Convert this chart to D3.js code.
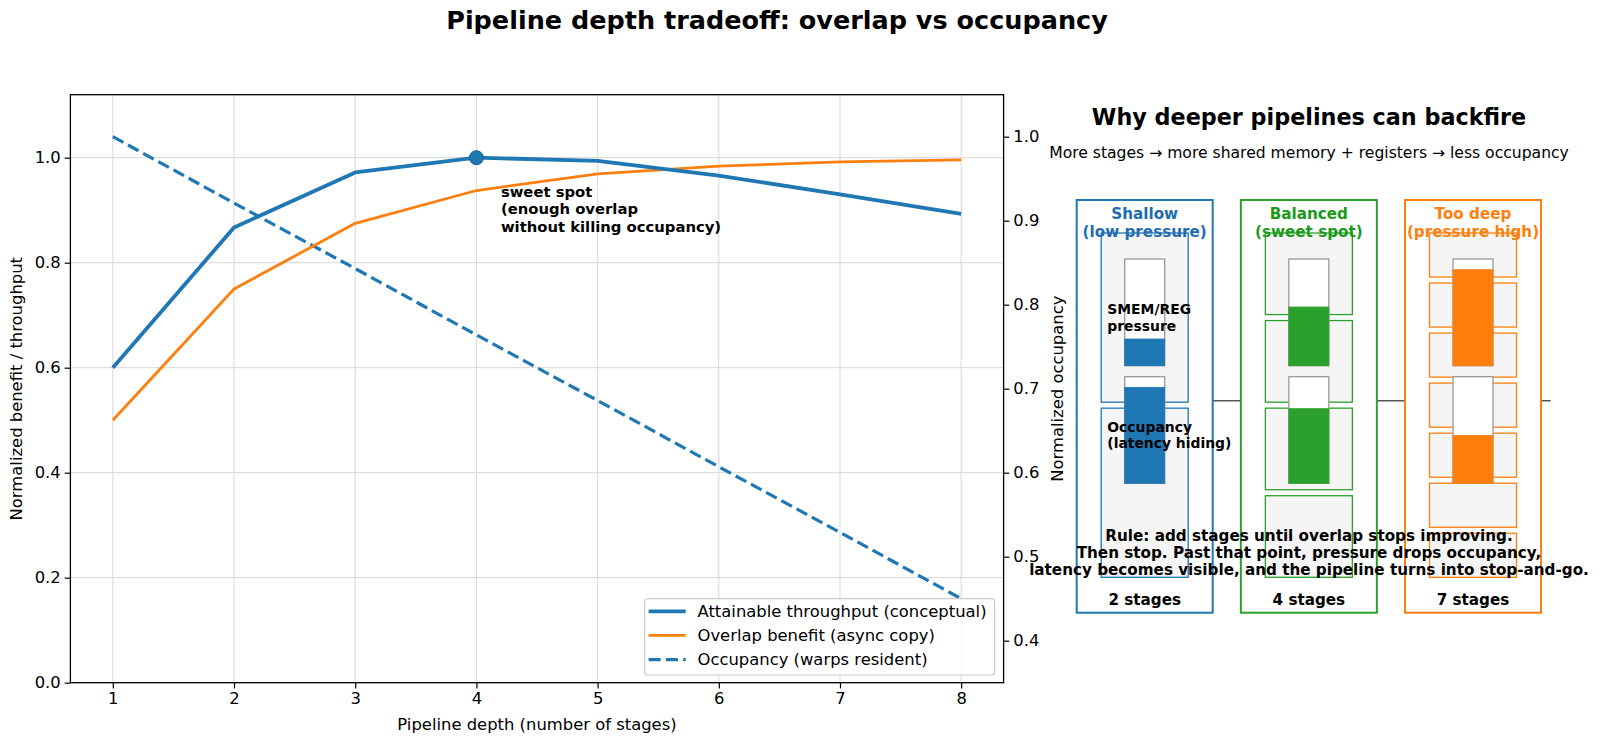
<!DOCTYPE html>
<html><head><meta charset="utf-8">
<script src="https://cdn.jsdelivr.net/npm/d3@7"></script>
<style>
html,body{margin:0;padding:0;background:#fff;}
svg{display:block;font-family:"DejaVu Sans",sans-serif;}
</style></head>
<body><svg id="c" width="1600" height="742"></svg>
<script>
// ---------- data ----------
const stages = [1, 2, 3, 4, 5, 6, 7, 8];
const throughput = [0.60, 0.867, 0.972, 1.0, 0.994, 0.966, 0.930, 0.893];
const overlap = [0.50, 0.75, 0.875, 0.9375, 0.969, 0.984, 0.992, 0.996];
const occupancy = [1.0, 0.921, 0.843, 0.764, 0.686, 0.607, 0.529, 0.45];
const leftTicks = [0.0, 0.2, 0.4, 0.6, 0.8, 1.0];
const rightTicks = [0.4, 0.5, 0.6, 0.7, 0.8, 0.9, 1.0];
const sweetSpot = {x: 4, y: 1.0};
const seriesNames = ["Attainable throughput (conceptual)", "Overlap benefit (async copy)", "Occupancy (warps resident)"];

const panelNames = ["Shallow", "Balanced", "Too deep"];
const panelSub = ["(low pressure)", "(sweet spot)", "(pressure high)"];
const panelStages = [2, 4, 7];
const panelPressure = [0.25, 0.55, 0.90];
const panelOccupancy = [0.90, 0.70, 0.45];
const panelColors = ["#1f77b4", "#2ca02c", "#ff7f0e"];
const panelTextColors = ["#1f6db0", "#1a9a1a", "#ff7f0e"];
const ruleLines = ["Rule: add stages until overlap stops improving.",
  "Then stop. Past that point, pressure drops occupancy,",
  "latency becomes visible, and the pipeline turns into stop-and-go."];

// ---------- setup ----------
const svg = d3.select("#c");
const FONT = 16.4;
const blue = "#1f77b4", orange = "#ff7f0e";
const L = 70.4, R = 1003.6, T = 94.7, B = 682.7;

const x = d3.scaleLinear().domain([0.65, 8.35]).range([L, R]);
const yL = d3.scaleLinear().domain([0, 1.12]).range([B, T]);
const yR = d3.scaleLinear().domain([0.35, 1.05]).range([B, T]);

// title
svg.append("text").attr("x", 777).attr("y", 20).attr("text-anchor", "middle")
  .attr("dominant-baseline", "central").attr("font-size", 25.5).attr("font-weight", "bold")
  .text("Pipeline depth tradeoff: overlap vs occupancy");

// grid
const g = svg.append("g");
g.selectAll(".gx").data(stages).join("line")
  .attr("x1", d => x(d)).attr("x2", d => x(d)).attr("y1", T).attr("y2", B)
  .attr("stroke", "#dedede").attr("stroke-width", 1.2);
g.selectAll(".gy").data(leftTicks).join("line")
  .attr("x1", L).attr("x2", R).attr("y1", d => yL(d)).attr("y2", d => yL(d))
  .attr("stroke", "#dedede").attr("stroke-width", 1.2);

// axes
const axB = d3.axisBottom(x).tickValues(stages).tickFormat(d3.format("d")).tickSizeOuter(0).tickSize(5.7).tickPadding(4);
const axL = d3.axisLeft(yL).tickValues(leftTicks).tickFormat(d3.format(".1f")).tickSizeOuter(0).tickSize(5.7).tickPadding(4);
const axR = d3.axisRight(yR).tickValues(rightTicks).tickFormat(d3.format(".1f")).tickSizeOuter(0).tickSize(5.7).tickPadding(4);
function styleAxis(sel) {
  sel.selectAll("text").attr("font-size", FONT).attr("font-family", "DejaVu Sans").attr("fill", "#000");
  sel.selectAll("line").attr("stroke", "#000").attr("stroke-width", 1.2);
  sel.select(".domain").remove();
}
svg.append("g").attr("transform", `translate(0,${B})`).call(axB).call(styleAxis);
svg.append("g").attr("transform", `translate(${L},0)`).call(axL).call(styleAxis);
svg.append("g").attr("transform", `translate(${R},0)`).call(axR).call(styleAxis);

// lines
const lineL = d3.line().x((d, i) => x(stages[i])).y(d => yL(d));
const lineR = d3.line().x((d, i) => x(stages[i])).y(d => yR(d));
svg.append("path").attr("d", lineR(occupancy)).attr("fill", "none").attr("stroke", blue)
  .attr("stroke-width", 3.2).attr("stroke-dasharray", "12,5.3");
svg.append("path").attr("d", lineL(overlap)).attr("fill", "none").attr("stroke", orange)
  .attr("stroke-width", 2.8).attr("stroke-linejoin", "round");
svg.append("path").attr("d", lineL(throughput)).attr("fill", "none").attr("stroke", blue)
  .attr("stroke-width", 3.8).attr("stroke-linejoin", "round");
svg.append("circle").attr("cx", x(sweetSpot.x)).attr("cy", yL(sweetSpot.y)).attr("r", 7)
  .attr("fill", blue).attr("stroke", "#1a5f94").attr("stroke-width", 1);

// annotation
const ann = svg.append("text").attr("font-size", 14.8).attr("font-weight", "bold");
["sweet spot", "(enough overlap", "without killing occupancy)"].forEach((t, i) => {
  ann.append("tspan").attr("x", x(sweetSpot.x) + 24.5).attr("y", 191 + i * 17.5)
    .attr("dominant-baseline", "central").text(t);
});

// spines
svg.append("rect").attr("x", L).attr("y", T).attr("width", R - L).attr("height", B - T)
  .attr("fill", "none").attr("stroke", "#000").attr("stroke-width", 1.3);

// axis labels
svg.append("text").attr("x", (L + R) / 2).attr("y", 724.3).attr("text-anchor", "middle")
  .attr("dominant-baseline", "central").attr("font-size", FONT).text("Pipeline depth (number of stages)");
svg.append("text").attr("transform", `translate(16.7,${(T + B) / 2}) rotate(-90)`).attr("text-anchor", "middle")
  .attr("dominant-baseline", "central").attr("font-size", FONT).text("Normalized benefit / throughput");
svg.append("text").attr("transform", `translate(1057,${(T + B) / 2}) rotate(-90)`).attr("text-anchor", "middle")
  .attr("dominant-baseline", "central").attr("font-size", FONT).text("Normalized occupancy");

// legend
const lg = svg.append("g");
lg.append("rect").attr("x", 644.6).attr("y", 598.7).attr("width", 350).attr("height", 76.3)
  .attr("rx", 3).attr("fill", "#fff").attr("fill-opacity", 0.8).attr("stroke", "#cccccc").attr("stroke-width", 1.2);
const legStyles = [
  {c: blue, w: 3.8, dash: null},
  {c: orange, w: 2.8, dash: null},
  {c: blue, w: 3.2, dash: "12,5.3"}];
const legY = [611.3, 635.3, 659.7];
seriesNames.forEach((n, i) => {
  const s = legStyles[i];
  const ln = lg.append("line").attr("x1", 648.6).attr("x2", 685.7).attr("y1", legY[i]).attr("y2", legY[i])
    .attr("stroke", s.c).attr("stroke-width", s.w);
  if (s.dash) ln.attr("stroke-dasharray", s.dash);
  lg.append("text").attr("x", 697.5).attr("y", legY[i]).attr("dominant-baseline", "central")
    .attr("font-size", FONT).text(n);
});

// ---------- right panel ----------
svg.append("text").attr("x", 1309).attr("y", 116.7).attr("text-anchor", "middle")
  .attr("dominant-baseline", "central").attr("font-size", 22.3).attr("font-weight", "bold")
  .text("Why deeper pipelines can backfire");
svg.append("text").attr("x", 1309).attr("y", 153.3).attr("text-anchor", "middle")
  .attr("dominant-baseline", "central").attr("font-size", 15.6)
  .text("More stages \u2192 more shared memory + registers \u2192 less occupancy");

const px = d3.scaleBand().domain(panelNames).range([1076.7, 1541]).paddingInner(0.1715).paddingOuter(0);
const boxTop = 200, boxBot = 612.7;
// connector line
svg.append("line").attr("x1", 1213).attr("x2", 1550.7).attr("y1", 400.7).attr("y2", 400.7)
  .attr("stroke", "#555").attr("stroke-width", 1.4);

const stTop = 233, stBot = 577.3, gap = 6;
const gaugeW = 40;
const gUp = d3.scaleLinear().domain([0, 1]).range([365.7, 259]);
const gLo = d3.scaleLinear().domain([0, 1]).range([483.3, 376.7]);
const PF = 15.2;

panelNames.forEach((name, i) => {
  const x0 = px(name), bw = px.bandwidth(), cx = x0 + bw / 2;
  const col = panelColors[i];
  const pg = svg.append("g");
  pg.append("rect").attr("x", x0).attr("y", boxTop).attr("width", bw).attr("height", boxBot - boxTop)
    .attr("fill", "#fff").attr("stroke", col).attr("stroke-width", 2);
  const n = panelStages[i];
  const h = (stBot - stTop - (n - 1) * gap) / n;
  pg.selectAll(".st").data(d3.range(n)).join("rect")
    .attr("x", x0 + 24.5).attr("width", bw - 49)
    .attr("y", k => stTop + k * (h + gap)).attr("height", h)
    .attr("fill", "#f5f5f5").attr("stroke", col).attr("stroke-width", 1.3);
  // gauges
  [[gUp, panelPressure[i]], [gLo, panelOccupancy[i]]].forEach(([sc, v]) => {
    pg.append("rect").attr("x", cx - gaugeW / 2).attr("width", gaugeW)
      .attr("y", sc(1)).attr("height", sc(0) - sc(1))
      .attr("fill", "#fff").attr("stroke", "#999").attr("stroke-width", 1.3);
    pg.append("rect").attr("x", cx - gaugeW / 2).attr("width", gaugeW)
      .attr("y", sc(v)).attr("height", sc(0) - sc(v))
      .attr("fill", col).attr("stroke", col).attr("stroke-width", 0.8);
  });
  pg.append("text").attr("x", cx).attr("y", 214.3).attr("text-anchor", "middle").attr("dominant-baseline", "central")
    .attr("font-size", PF).attr("font-weight", "bold").attr("fill", panelTextColors[i]).text(name);
  pg.append("text").attr("x", cx).attr("y", 232.3).attr("text-anchor", "middle").attr("dominant-baseline", "central")
    .attr("font-size", PF).attr("font-weight", "bold").attr("fill", panelTextColors[i]).text(panelSub[i]);
  pg.append("text").attr("x", cx).attr("y", 600).attr("text-anchor", "middle").attr("dominant-baseline", "central")
    .attr("font-size", PF).attr("font-weight", "bold").attr("fill", "#000").text(n + " stages");
  if (i === 0) {
    const lab = (lines, y0) => lines.forEach((t, k) => pg.append("text").attr("x", x0 + 30.6).attr("y", y0 + k * 16.5)
      .attr("dominant-baseline", "central").attr("font-size", 13.9).attr("font-weight", "bold").text(t));
    lab(["SMEM/REG", "pressure"], 309);
    lab(["Occupancy", "(latency hiding)"], 426.7);
  }
});

ruleLines.forEach((t, k) => {
  svg.append("text").attr("x", 1309).attr("y", 536 + k * 17).attr("text-anchor", "middle")
    .attr("dominant-baseline", "central").attr("font-size", PF).attr("font-weight", "bold").text(t);
});
</script></body></html>
